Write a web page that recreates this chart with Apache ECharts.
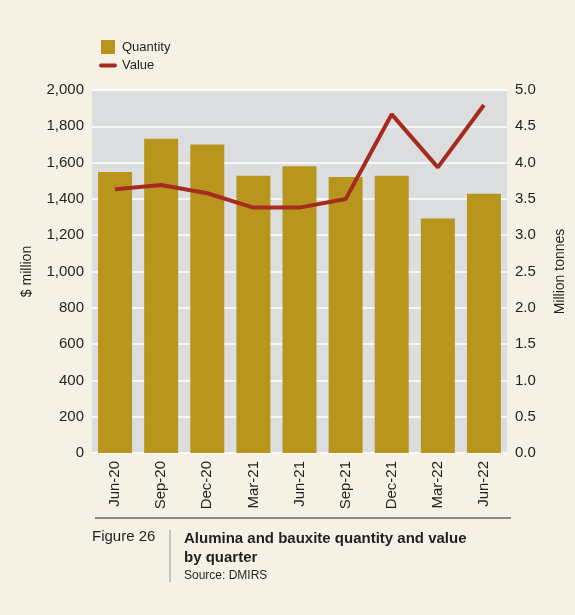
<!DOCTYPE html>
<html>
<head>
<meta charset="utf-8">
<script src="https://cdn.jsdelivr.net/npm/echarts@6/dist/echarts.min.js"></script>
<style>
  html, body { margin: 0; padding: 0; background: #F5F1E4; }
  #chart { width: 575px; height: 615px; }
</style>
</head>
<body>
<div id="chart"></div>
<script>
var categories = ["Jun-20", "Sep-20", "Dec-20", "Mar-21", "Jun-21", "Sep-21", "Dec-21", "Mar-22", "Jun-22"];
// Million tonnes (right axis)
var quantity = [3.87, 4.33, 4.25, 3.82, 3.95, 3.80, 3.82, 3.23, 3.57];
// $ million (left axis)
var value = [1453, 1477, 1431, 1352, 1352, 1399, 1866, 1574, 1917];

var FONT = "'Liberation Sans Narrow', 'Liberation Sans', Arial, sans-serif";
var TXT = "#231F20";

var myChart = echarts.init(document.getElementById("chart"), null, { renderer: "canvas" });

var option = {
  backgroundColor: "#F5F1E4",
  animation: false,
  textStyle: { fontFamily: FONT, color: TXT },
  legend: {
    orient: "vertical",
    left: 94,
    top: 35,
    itemGap: 5,
    itemWidth: 18,
    itemHeight: 14,
    textStyle: { fontFamily: FONT, fontSize: 13, color: TXT },
    data: [
      { name: "Quantity", icon: "path://M2,0 L16,0 L16,14 L2,14 Z" },
      { name: "Value", icon: "path://M2,0 L16,0 A2,2 0 0 1 16,4 L2,4 A2,2 0 0 1 2,0 Z", itemStyle: { color: "#A52A1F" } }
    ]
  },
  grid: {
    left: 92,
    right: 63,
    top: 90,
    bottom: 162,
    show: true,
    backgroundColor: "#DCDDDF",
    borderWidth: 0
  },
  xAxis: {
    type: "category",
    data: categories,
    axisTick: { show: false },
    axisLine: { show: false },
    axisLabel: {
      rotate: 90,
      interval: 0,
      margin: 8,
      fontFamily: FONT,
      fontSize: 15,
      color: TXT
    }
  },
  yAxis: [
    {
      type: "value",
      name: "$ million",
      nameLocation: "middle",
      nameGap: 58,
      nameRotate: 90,
      nameTextStyle: { fontFamily: FONT, fontSize: 14, color: TXT },
      min: 0,
      max: 2000,
      interval: 200,
      axisLine: { show: false },
      axisTick: { show: false },
      splitLine: { lineStyle: { color: "#FFFFFF", width: 1.5 } },
      axisLabel: {
        margin: 8,
        fontFamily: FONT,
        fontSize: 15,
        color: TXT,
        formatter: function (v) { return v.toLocaleString("en-US"); }
      }
    },
    {
      type: "value",
      name: "Million tonnes",
      nameLocation: "middle",
      nameGap: 46,
      nameRotate: 90,
      nameTextStyle: { fontFamily: FONT, fontSize: 14, color: TXT },
      min: 0,
      max: 5,
      interval: 0.5,
      axisLine: { show: false },
      axisTick: { show: false },
      splitLine: { show: false },
      axisLabel: {
        margin: 8,
        fontFamily: FONT,
        fontSize: 15,
        color: TXT,
        formatter: function (v) { return v.toFixed(1); }
      }
    }
  ],
  series: [
    {
      name: "Quantity",
      type: "bar",
      yAxisIndex: 1,
      barWidth: 34,
      itemStyle: { color: "#B8961E" },
      data: quantity
    },
    {
      name: "Value",
      type: "line",
      yAxisIndex: 0,
      symbol: "none",
      lineStyle: { color: "#A52A1F", width: 4 },
      itemStyle: { color: "#A52A1F" },
      data: value
    }
  ],
  graphic: [
    {
      type: "line",
      shape: { x1: 95, y1: 518, x2: 511, y2: 518 },
      style: { stroke: "#231F20", lineWidth: 1.2 }
    },
    {
      type: "line",
      shape: { x1: 170, y1: 530, x2: 170, y2: 582 },
      style: { stroke: "#9A9A9A", lineWidth: 1 }
    },
    {
      type: "text",
      left: 92,
      top: 529,
      style: { text: "Figure 26", font: "15px " + FONT, fill: TXT }
    },
    {
      type: "text",
      left: 184,
      top: 529,
      style: {
        text: "Alumina and bauxite quantity and value\nby quarter",
        font: "bold 15px " + FONT,
        lineHeight: 19,
        fill: TXT
      }
    },
    {
      type: "text",
      left: 184,
      top: 570,
      style: { text: "Source: DMIRS", font: "12px " + FONT, fill: TXT }
    }
  ]
};

myChart.setOption(option);
</script>
</body>
</html>
